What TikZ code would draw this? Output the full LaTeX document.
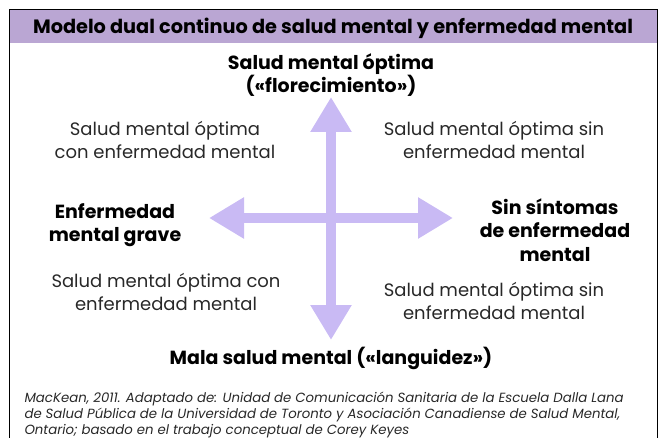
\documentclass[tikz,border=0pt]{standalone}
\usepackage{fontspec}
\setmainfont{Poppins}
\usetikzlibrary{arrows.meta}
\definecolor{headpurple}{RGB}{186,166,211}
\definecolor{arrowpurple}{RGB}{201,186,244}
\definecolor{txtgray}{RGB}{40,40,40}
\tikzset{
  quad/.style={align=center,font=\fontsize{18}{23}\selectfont,text=txtgray},
  pole/.style={align=center,font=\fontsize{19}{23.5}\selectfont\bfseries,text=black},
  bigarrow/.style={line width=10pt,arrowpurple,
    {Triangle[width=39pt,length=35pt]}-{Triangle[width=39pt,length=35pt]}}
}

\begin{document}
\begin{tikzpicture}[x=1pt,y=-1pt]
  \useasboundingbox (0,0) rectangle (658,438);
  % frame and heading
  \fill[headpurple] (9,10) rectangle (657,43);
  \draw[line width=1pt] (9,438) -- (9,10) -- (657,10) -- (657,438);
  \node[pole,font=\fontsize{19.3}{22}\selectfont\bfseries] (title) at (333,28) {Modelo dual continuo de salud mental y enfermedad mental};

  % the two axes
  \coordinate (c) at (331,218);
  \coordinate (vtop) at (331,97);
  \coordinate (vbot) at (331,340);
  \coordinate (hleft) at (209,218);
  \coordinate (hright) at (453,218);
  \draw[bigarrow] (vbot) -- (vtop);
  \draw[bigarrow] (hleft) -- (hright);

  % poles
  \node[pole] (top) at (331,75) {Salud mental óptima\\(«florecimiento»)};
  \node[pole] (bottom) at (331,358) {Mala salud mental («languidez»)};
  \node[pole] (left) at (115,225) {Enfermedad\\mental grave};
  \node[pole] (right) at (555,230) {Sin síntomas\\de enfermedad\\mental};

  % quadrants
  \node[quad] (tl) at (165,140) {Salud mental óptima\\con enfermedad mental};
  \node[quad] (tr) at (494,140) {Salud mental óptima sin\\enfermedad mental};
  \node[quad] (bl) at (166,292) {Salud mental óptima con\\enfermedad mental};
  \node[quad] (br) at (494,301) {Salud mental óptima sin\\enfermedad mental};

  % source
  \node[anchor=north west,align=left,text=txtgray,font=\fontsize{13.3}{16}\selectfont\itshape] (src) at (21,388)
    {MacKean, 2011. Adaptado de: Unidad de Comunicación Sanitaria de la Escuela Dalla Lana\\
     de Salud Pública de la Universidad de Toronto y Asociación Canadiense de Salud Mental,\\
     Ontario; basado en el trabajo conceptual de Corey Keyes};
\end{tikzpicture}
\end{document}
